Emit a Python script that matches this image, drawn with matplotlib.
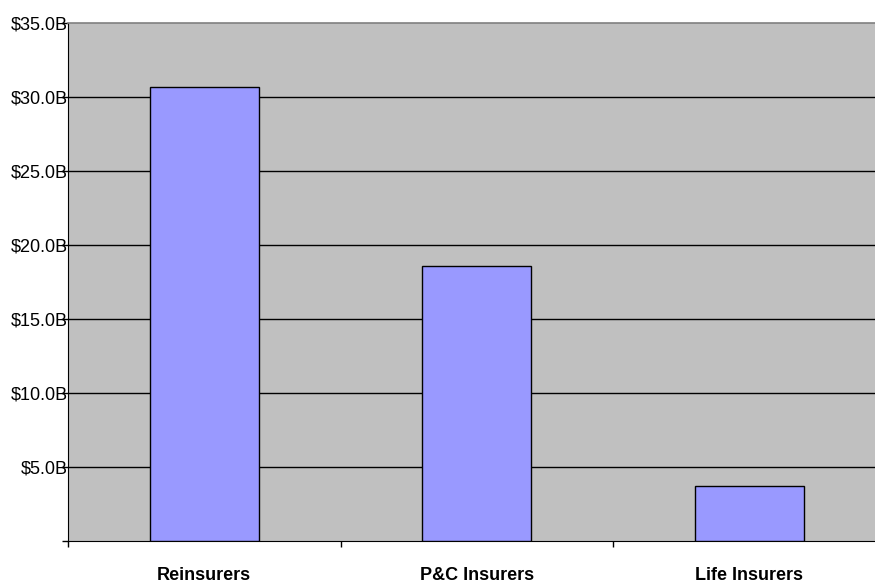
import matplotlib
matplotlib.use("Agg")
import matplotlib.pyplot as plt

plt.rcParams['font.family'] = ['Liberation Sans', 'DejaVu Sans']

categories = ["Reinsurers", "P&C Insurers", "Life Insurers"]
values = [30.7, 18.6, 3.7]  # billions of dollars
yticks = [0, 5, 10, 15, 20, 25, 30, 35]
ytick_labels = ["", "$5.0B", "$10.0B", "$15.0B", "$20.0B", "$25.0B", "$30.0B", "$35.0B"]

fig = plt.figure(figsize=(8.75, 5.83), dpi=100)
# plot area runs a little past the right edge of the figure
ax = fig.add_axes([68 / 875, 42 / 583, 817.5 / 875, 518 / 583])
ax.set_facecolor("#C0C0C0")

x = list(range(len(categories)))
ax.bar(x, values, width=0.4, color="#9999FF", edgecolor="black", linewidth=1, zorder=3)

ax.set_xlim(-0.5, 2.5)
ax.set_ylim(0, 35)

ax.set_yticks(yticks)
ax.set_yticklabels(ytick_labels, fontsize=13)
ax.tick_params(axis="y", direction="out", length=4.5, width=1, pad=-4.5)

ax.set_xticks(x)
ax.set_xticklabels(categories, fontsize=13, fontweight="bold")
ax.set_xticks([-0.5, 0.5, 1.5, 2.5], minor=True)
ax.tick_params(axis="x", which="major", length=0, pad=19)
ax.tick_params(axis="x", which="minor", direction="out", length=4, width=1)

for v in yticks[1:-1]:
    ax.axhline(v, color="black", linewidth=1, zorder=1)

ax.spines["left"].set_color("black")
ax.spines["bottom"].set_color("black")
ax.spines["top"].set_color("#808080")
ax.spines["top"].set_linewidth(1.2)
ax.spines["right"].set_visible(False)

fig.savefig("out.png", dpi=100)
